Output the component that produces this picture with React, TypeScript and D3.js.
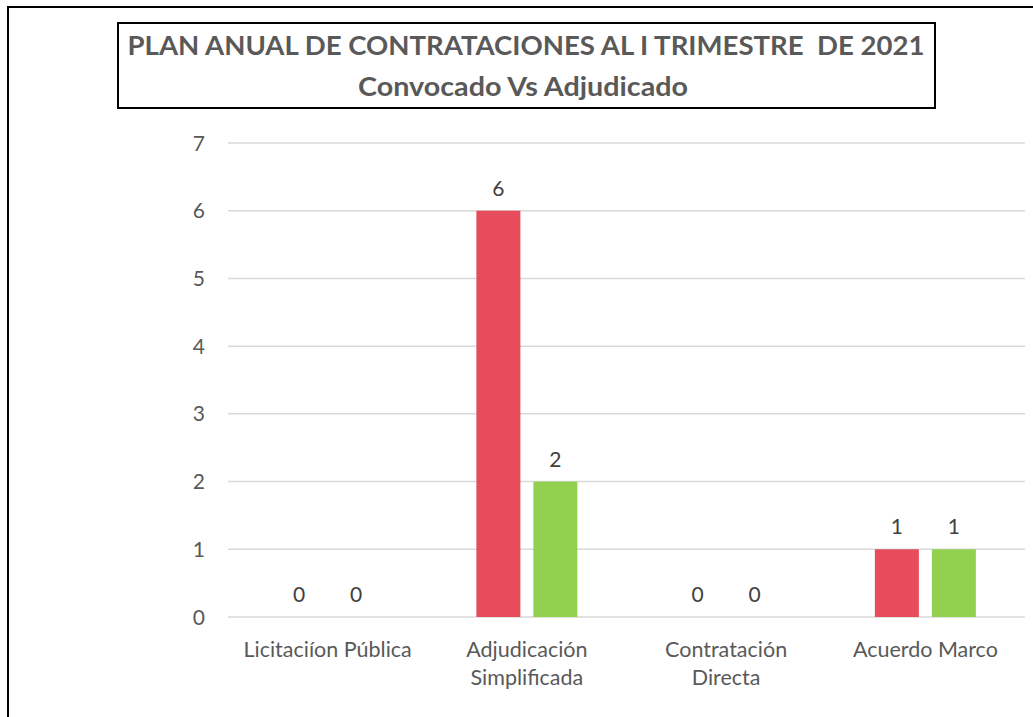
import React from "react";
import * as d3 from "d3";

const categories: string[][] = [
  ["Licitaciíon Pública"],
  ["Adjudicación", "Simplificada"],
  ["Contratación", "Directa"],
  ["Acuerdo Marco"],
];
const convocado: number[] = [0, 6, 0, 1];
const adjudicado: number[] = [0, 2, 0, 1];
const yTicks: number[] = [0, 1, 2, 3, 4, 5, 6, 7];
const titleLine1 = "PLAN ANUAL DE CONTRATACIONES AL I TRIMESTRE  DE 2021";
const titleLine2 = "Convocado Vs Adjudicado";

const W = 1033;
const H = 717;
const plot = { left: 228, right: 1025, top: 143, bottom: 617 };
const RED = "#E64C5B";
const GREEN = "#92D050";
const TEXT = "#595959";
const FONT = "Lato, 'Open Sans', sans-serif";

export default function App() {
  const x = d3
    .scaleBand<number>()
    .domain(d3.range(categories.length))
    .range([plot.left, plot.right]);
  const y = d3.scaleLinear().domain([0, 7]).range([plot.bottom, plot.top]);
  const barW = 44;
  const offset = 28.5;
  const series = [
    { values: convocado, color: RED, dx: -offset },
    { values: adjudicado, color: GREEN, dx: offset },
  ];

  return (
    <div style={{ position: "absolute", left: 0, top: 0 }}>
      <svg width={W} height={H} style={{ display: "block" }} fontFamily={FONT}>
        <rect x={0} y={0} width={W} height={H} fill="#fff" />
        <rect x={8} y={7} width={W + 20} height={H + 20} fill="none" stroke="#000" strokeWidth={2} />
        {yTicks.map((t) => (
          <line
            key={"g" + t}
            x1={plot.left}
            x2={plot.right}
            y1={y(t)}
            y2={y(t)}
            stroke="#D9D9D9"
            strokeWidth={1.5}
          />
        ))}
        {yTicks.map((t) => (
          <text
            key={"t" + t}
            x={205}
            y={y(t)}
            dy="0.36em"
            textAnchor="end"
            fontSize={21}
            fill={TEXT}
          >
            {t}
          </text>
        ))}
        {series.map((s, si) =>
          s.values.map((v, i) => {
            const cx = (x(i) as number) + x.bandwidth() / 2 + s.dx;
            return (
              <g key={`b${si}-${i}`}>
                {v > 0 && (
                  <rect
                    x={cx - barW / 2}
                    y={y(v)}
                    width={barW}
                    height={y(0) - y(v)}
                    fill={s.color}
                  />
                )}
                <text
                  x={cx}
                  y={y(v) - 15}
                  textAnchor="middle"
                  fontSize={21}
                  fill="#404040"
                >
                  {v}
                </text>
              </g>
            );
          })
        )}
        {categories.map((lines, i) => {
          const cx = (x(i) as number) + x.bandwidth() / 2;
          return (
            <text key={"c" + i} textAnchor="middle" fontSize={21.5} fill={TEXT}>
              {lines.map((l, li) => (
                <tspan key={li} x={cx} y={657 + li * 28}>
                  {l}
                </tspan>
              ))}
            </text>
          );
        })}
        <rect x={118} y={23} width={817} height={85} fill="#fff" stroke="#000" strokeWidth={2} />
        <text
          x={526}
          y={55}
          textAnchor="middle"
          fontSize={27}
          fontWeight="bold"
          fill={TEXT}
          textLength={797}
          lengthAdjust="spacingAndGlyphs"
          style={{ whiteSpace: "pre" }}
        >
          {titleLine1}
        </text>
        <text
          x={523}
          y={96}
          textAnchor="middle"
          fontSize={27}
          fontWeight="bold"
          fill={TEXT}
          textLength={330}
          lengthAdjust="spacingAndGlyphs"
        >
          {titleLine2}
        </text>
      </svg>
    </div>
  );
}
